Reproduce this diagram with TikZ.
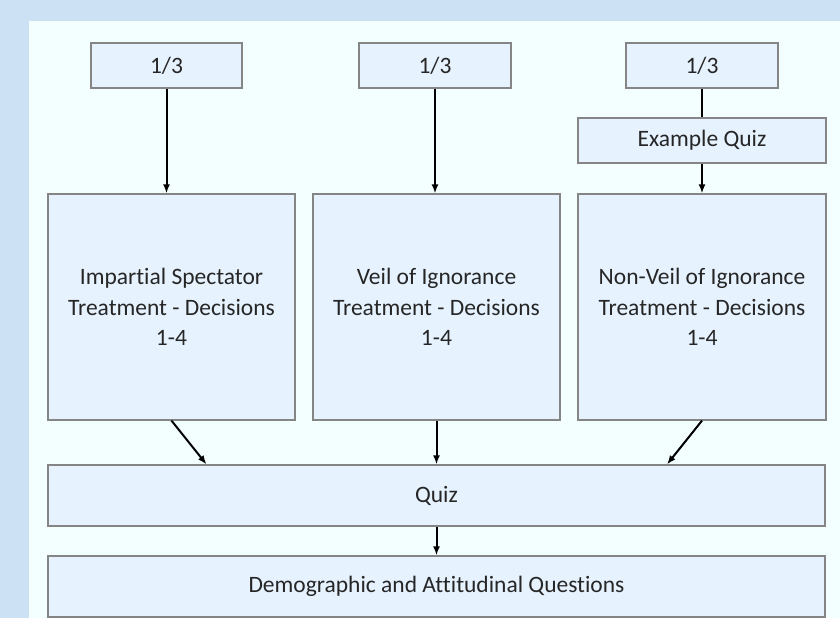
\documentclass[tikz,border=0pt]{standalone}
\usepackage{fontspec}
\setmainfont[Ligatures=NoCommon]{Carlito}
\usetikzlibrary{arrows.meta}
\definecolor{outerbg}{HTML}{CCE2F4}
\definecolor{innerbg}{HTML}{F3FFFF}
\definecolor{boxfill}{HTML}{E6F2FE}
\definecolor{boxline}{HTML}{858585}
\definecolor{txt}{HTML}{262626}
\tikzset{
  box/.style={draw=boxline, line width=1.2pt, fill=boxfill, text=txt, inner sep=0pt,
    font=\fontsize{23.5}{30.5}\selectfont, align=center},
  arr/.style={line width=2pt, -{Latex[length=9pt,width=7pt]}},
  plain/.style={line width=2pt}
}
\begin{document}
\begin{tikzpicture}[x=1pt,y=-1pt]
\useasboundingbox (0,0) rectangle (840,618);
\fill[outerbg] (0,0) rectangle (840,618);
\fill[innerbg] (29,21) rectangle (840,618);
\node[box, minimum width=151pt, minimum height=45pt] (p1) at (166.5,65.5) {1/3};
\node[box, minimum width=152pt, minimum height=45pt] (p2) at (435,65.5) {1/3};
\node[box, minimum width=152pt, minimum height=45pt] (p3) at (702,65.5) {1/3};
\node[box, minimum width=248pt, minimum height=45pt] (ex) at (702,140.5) {Example Quiz};
\node[box, minimum width=247pt, minimum height=226pt] (t1) at (171.5,307) {Impartial Spectator\\Treatment - Decisions\\1-4};
\node[box, minimum width=247pt, minimum height=226pt] (t2) at (436.5,307) {Veil of Ignorance\\Treatment - Decisions\\1-4};
\node[box, minimum width=248pt, minimum height=226pt] (t3) at (702,307) {Non-Veil of Ignorance\\Treatment - Decisions\\1-4};
\node[box, minimum width=777pt, minimum height=61pt] (quiz) at (436.5,495.5) {Quiz};
\node[box, minimum width=777pt, minimum height=61pt] (demo) at (436.5,586.5) {Demographic and Attitudinal Questions};
\draw[arr] (p1.south) -- (p1.south |- t1.north);
\draw[arr] (p2.south) -- (p2.south |- t2.north);
\draw[plain] (p3.south) -- (ex.north);
\draw[arr] (ex.south) -- (t3.north);
\draw[arr] (t1.south) -- ([xshift=35pt]t1.south |- quiz.north);
\draw[arr] (t2.south) -- (t2.south |- quiz.north);
\draw[arr] (t3.south) -- ([xshift=-35pt]t3.south |- quiz.north);
\draw[arr] (quiz.south) -- (demo.north);
\end{tikzpicture}
\end{document}
